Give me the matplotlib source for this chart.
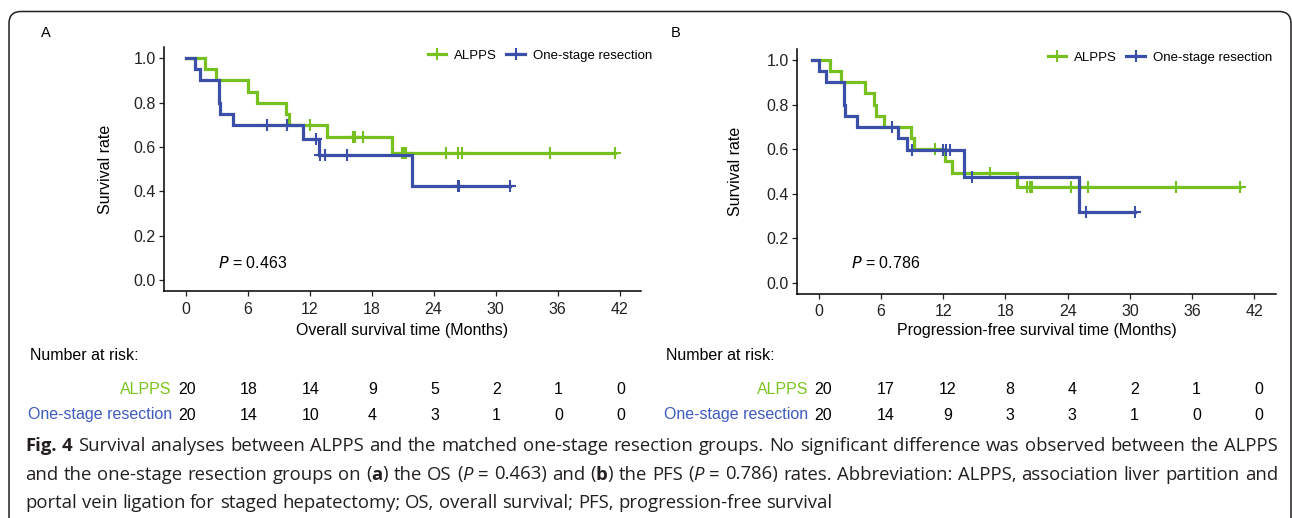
import numpy as np
import matplotlib.pyplot as plt
import matplotlib.transforms as mtransforms
from matplotlib.lines import Line2D
from matplotlib.patches import FancyBboxPatch

plt.rcParams['font.family'] = ['Liberation Sans', 'DejaVu Sans']
plt.rcParams['font.size'] = 11.5

# ---- data ----
risk_times = [0, 6, 12, 18, 24, 30, 36, 42]

# A: overall survival
os_alpps_t = [0, 1.84, 2.97, 6.03, 6.94, 9.75, 10.0, 13.7, 20.0]
os_alpps_s = [1.0, 0.95, 0.90, 0.85, 0.80, 0.75, 0.70, 0.646, 0.574]
os_alpps_cens = [12.07, 16.2, 16.4, 17.2, 20.9, 21.1, 21.3, 25.2, 26.4, 26.8, 35.3, 41.6]
os_one_t = [0, 0.87, 1.42, 3.2, 3.3, 4.58, 11.36, 12.9, 21.95]
os_one_s = [1.0, 0.95, 0.90, 0.80, 0.75, 0.70, 0.636, 0.566, 0.425]
os_one_cens = [7.87, 9.85, 12.65, 13.05, 13.5, 15.6, 26.4, 26.5, 31.4]
os_risk_alpps = [20, 18, 14, 9, 5, 2, 1, 0]
os_risk_one = [20, 14, 10, 4, 3, 1, 0, 0]

# B: progression-free survival
pfs_alpps_t = [-0.7, 1.13, 2.19, 4.5, 5.33, 5.5, 6.27, 8.94, 9.16, 12.15, 12.8, 19.1]
pfs_alpps_s = [1.0, 0.95, 0.90, 0.85, 0.80, 0.75, 0.70, 0.65, 0.60, 0.546, 0.493, 0.431]
pfs_alpps_cens = [11.25, 16.5, 20.1, 20.35, 20.6, 24.3, 26.0, 34.4, 40.6]
pfs_one_t = [-0.7, 0.03, 0.68, 2.41, 2.55, 3.7, 7.65, 8.46, 14.0, 25.1]
pfs_one_s = [1.0, 0.95, 0.90, 0.80, 0.75, 0.70, 0.648, 0.596, 0.476, 0.319]
pfs_one_cens = [7.07, 9.0, 12.0, 12.3, 12.7, 14.8, 25.75, 30.5]
pfs_risk_alpps = [20, 17, 12, 8, 4, 2, 1, 0]
pfs_risk_one = [20, 14, 9, 3, 3, 1, 0, 0]

GREEN = '#76c11f'
BLUE = '#3c4fa8'
GREEN_TXT = '#7dc520'
BLUE_TXT = '#3e5bbf'

W, H = 1292, 518
fig = plt.figure(figsize=(W / 100, H / 100), dpi=100)


def box(l, t, r, b):
    return [l / W, 1 - b / H, (r - l) / W, (b - t) / H]


def fy(y):
    return 1 - y / H


def km(ax, t, s, cens, color):
    t = np.asarray(t)
    s = np.asarray(s)
    end = max(cens[-1], t[-1])
    ax.step(np.append(t, end), np.append(s, s[-1]), where='post',
            color=color, lw=2.3, solid_joinstyle='miter')
    idx = np.searchsorted(t, cens, side='right') - 1
    ax.plot(cens, s[idx], ls='none', marker='+', ms=8, mew=1.5, color=color)


panels = [
    dict(rect=box(163.9, 47.2, 641.2, 291.1), tag='A', tagx=41,
         xlabel='Overall survival time (Months)', p='0.463', pxy=(3.1, 0.077),
         curves=[(os_alpps_t, os_alpps_s, os_alpps_cens, GREEN),
                 (os_one_t, os_one_s, os_one_cens, BLUE)],
         risk=(os_risk_alpps, os_risk_one), riskx=30, shift=0.1, leg=652, legy=56),
    dict(rect=box(797.0, 48.9, 1276.1, 293.8), tag='B', tagx=671,
         xlabel='Progression-free survival time (Months)', p='0.786', pxy=(3.12, 0.087),
         curves=[(pfs_alpps_t, pfs_alpps_s, pfs_alpps_cens, GREEN),
                 (pfs_one_t, pfs_one_s, pfs_one_cens, BLUE)],
         risk=(pfs_risk_alpps, pfs_risk_one), riskx=666, shift=0.43, leg=1272, legy=58),
]

for pn in panels:
    ax = fig.add_axes(pn['rect'])
    for t, s, c, col in pn['curves']:
        km(ax, t, s, c, col)
    ax.set_xlim(-2.1, 44.1)
    ax.set_ylim(-0.05, 1.05)
    ax.set_xticks(risk_times)
    ax.set_yticks(np.arange(0, 1.01, 0.2))
    ax.set_yticklabels(['%.1f' % v for v in np.arange(0, 1.01, 0.2)])
    for side in ['top', 'right']:
        ax.spines[side].set_visible(False)
    for side in ['left', 'bottom']:
        ax.spines[side].set_linewidth(1.1)
    ax.tick_params(length=3.5, width=0.9, labelsize=11.5, colors='#222222')
    ax.tick_params(axis='x', pad=4)
    ax.tick_params(axis='y', pad=2.5)
    ax.set_xlabel(pn['xlabel'], fontsize=11.5)
    ax.set_ylabel('Survival rate', fontsize=11.5)
    bbox = ax.get_position()
    axw = bbox.width * W
    axh = bbox.height * H
    ax.xaxis.set_label_coords(0.5, -(330 - (1 - bbox.y0) * H) / axh)
    ax.xaxis.label.set_va('center')
    ax.yaxis.set_label_coords((pn['tagx'] + 65 - bbox.x0 * W) / axw, 0.5)
    ax.yaxis.label.set_va('center')
    ax.text(pn['pxy'][0], pn['pxy'][1], '$P$ = ' + pn['p'], fontsize=11.5,
            va='center', ha='left')
    fig.text(pn['tagx'] / W, fy(33), pn['tag'], fontsize=10.5, va='center', ha='left')

    handles = [Line2D([], [], color=GREEN, lw=2.3, marker='+', ms=8, mew=1.5),
               Line2D([], [], color=BLUE, lw=2.3, marker='+', ms=8, mew=1.5)]
    fig.legend(handles, ['ALPPS', 'One-stage resection'], loc='center right',
               bbox_to_anchor=(pn['leg'] / W, fy(pn['legy'])), ncol=2, frameon=False,
               fontsize=9.5, handlelength=1.4, handletextpad=0.6, columnspacing=0.7,
               borderpad=0, borderaxespad=0)

    # number at risk table
    tr = mtransforms.blended_transform_factory(ax.transData, fig.transFigure)
    fig.text(pn['riskx'] / W, fy(355), 'Number at risk:', fontsize=11.5, va='center')
    for row, (vals, name, col, y) in enumerate(zip(pn['risk'], ['ALPPS', 'One-stage resection'],
                                                    [GREEN_TXT, BLUE_TXT], [390, 415])):
        ax.text(-1.45 + pn['shift'], fy(y), name, color=col, transform=tr,
                ha='right', va='center', fontsize=11.5, clip_on=False)
        for xt, v in zip(risk_times, vals):
            ax.text(xt + pn['shift'], fy(y), str(v), transform=tr, ha='center',
                    va='center', fontsize=11.5, clip_on=False)

# rounded frame around the figure
pix = mtransforms.Affine2D().scale(1 / 100, -1 / 100).translate(0, H / 100) + fig.dpi_scale_trans
frame = FancyBboxPatch((9, 11.5), 1282, 560, boxstyle='round,pad=0,rounding_size=12',
                       transform=pix, fill=False, lw=1.1, ec='#231f20')
fig.patches.append(frame)

# caption
cap_lines = [
    ([('Fig. 4', 'b'), (' Survival analyses between ALPPS and the matched one-stage resection '
                         'groups. No significant difference was observed between the ALPPS', 'n')], True),
    ([('and the one-stage resection groups on (', 'n'), ('a', 'b'), (') the OS (', 'n'), ('P', 'i'),
      (' = 0.463) and (', 'n'), ('b', 'b'), (') the PFS (', 'n'), ('P', 'i'),
      (' = 0.786) rates. Abbreviation: ALPPS, association liver partition and', 'n')], True),
    ([('portal vein ligation for staged hepatectomy; OS, overall survival; PFS, '
       'progression-free survival', 'n')], False),
]
cap_base = [451, 479.5, 508]
cap_left, cap_right, line3_right = 25, 1278, 826
renderer = fig.canvas.get_renderer()


def words_of(segs):
    words, cur = [], []
    for txt, st in segs:
        pieces = txt.split(' ')
        for k, pc in enumerate(pieces):
            if k > 0:
                if cur:
                    words.append(cur)
                cur = []
            if pc:
                cur.append((pc, st))
    if cur:
        words.append(cur)
    return words


def make(txt, st, size):
    return fig.text(0, 0, txt, fontsize=size, family=['Open Sans', 'DejaVu Sans'],
                    fontweight='bold' if st == 'b' else 'normal',
                    fontstyle='italic' if st == 'i' else 'normal',
                    color='#231f20', va='baseline', ha='left')


# fit caption font size so that the last (unjustified) line has the reference width
probe = make('portal vein ligation for staged hepatectomy; OS, overall survival; PFS, '
             'progression-free survival', 'n', 12)
cap_size = 12 * (line3_right - cap_left) / probe.get_window_extent(renderer).width
probe.remove()
sp = make('a a', 'n', cap_size)
sp_w = sp.get_window_extent(renderer).width
a1 = make('a', 'n', cap_size)
sp_w -= 2 * a1.get_window_extent(renderer).width
sp.remove()
a1.remove()

for (segs, justify), base in zip(cap_lines, cap_base):
    words = words_of(segs)
    arts = []
    widths = []
    for w in words:
        parts = [make(t, st, cap_size) for t, st in w]
        pw = [p.get_window_extent(renderer).width for p in parts]
        arts.append((parts, pw))
        widths.append(sum(pw))
    gap = (cap_right - cap_left - sum(widths)) / (len(words) - 1) if justify else sp_w
    x = cap_left
    for parts, pw in arts:
        for p, w in zip(parts, pw):
            p.set_position((x / W, fy(base)))
            x += w
        x += gap

fig.savefig('out.png', dpi=100)
